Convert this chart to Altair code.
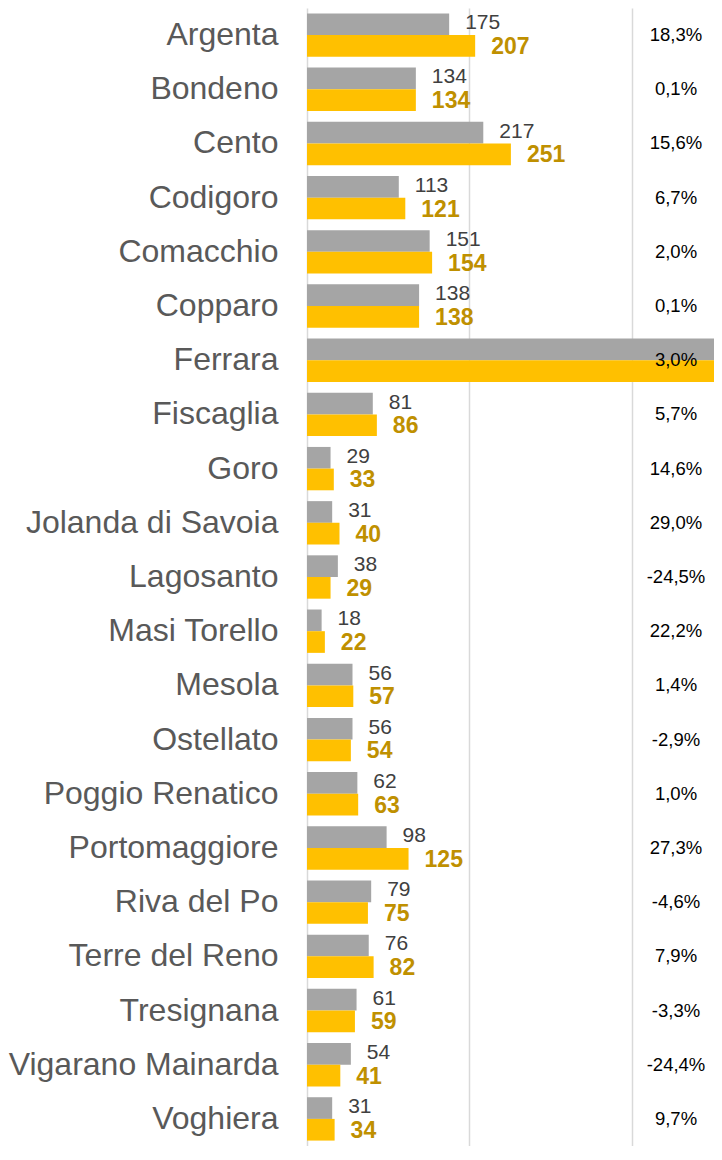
import altair as alt
import pandas as pd

towns = ["Argenta", "Bondeno", "Cento", "Codigoro", "Comacchio", "Copparo", "Ferrara",
         "Fiscaglia", "Goro", "Jolanda di Savoia", "Lagosanto", "Masi Torello", "Mesola",
         "Ostellato", "Poggio Renatico", "Portomaggiore", "Riva del Po", "Terre del Reno",
         "Tresignana", "Vigarano Mainarda", "Voghiera"]
prev_vals = [175, 134, 217, 113, 151, 138, 1000, 81, 29, 31, 38, 18, 56, 56, 62, 98, 79, 76, 61, 54, 31]
curr_vals = [207, 134, 251, 121, 154, 138, 1030, 86, 33, 40, 29, 22, 57, 54, 63, 125, 75, 82, 59, 41, 34]
pct_labels = ["18,3%", "0,1%", "15,6%", "6,7%", "2,0%", "0,1%", "3,0%", "5,7%", "14,6%", "29,0%",
              "-24,5%", "22,2%", "1,4%", "-2,9%", "1,0%", "27,3%", "-4,6%", "7,9%", "-3,3%",
              "-24,4%", "9,7%"]
series_order = ["prev", "curr"]
x_max = 501

rows = []
for t, p, c in zip(towns, prev_vals, curr_vals):
    rows.append({"town": t, "series": "prev", "value": p})
    rows.append({"town": t, "series": "curr", "value": c})
df = pd.DataFrame(rows)
pdf = pd.DataFrame({"town": towns, "pct": pct_labels})

y = alt.Y("town:N", sort=towns,
          scale=alt.Scale(paddingInner=0.2, paddingOuter=0.1),
          axis=alt.Axis(title=None, labelFontSize=32, labelColor="#595959",
                        labelFont="Liberation Sans", labelPadding=29, ticks=False,
                        domain=False, labelLimit=0))
yoff = alt.YOffset("series:N", sort=series_order,
                   scale=alt.Scale(domain=series_order, paddingInner=0, paddingOuter=0))
x = alt.X("value:Q", scale=alt.Scale(domain=[0, x_max], nice=False),
          axis=alt.Axis(values=[0, 200, 400], grid=True, gridColor="#D9D9D9", gridWidth=1.5,
                        labels=False, ticks=False, domain=False, title=None))
color = alt.Color("series:N", scale=alt.Scale(domain=series_order, range=["#A5A5A5", "#FFC000"]),
                  legend=None)

bars = alt.Chart(df).mark_bar(clip=True).encode(y=y, yOffset=yoff, x=x, color=color)

prev_text = alt.Chart(df).transform_filter(
    (alt.datum.series == "prev") & (alt.datum.value <= x_max)
).mark_text(
    align="left", baseline="middle", dx=16, dy=-1, fontSize=21,
    font="Liberation Sans", color="#404040"
).encode(y=y, yOffset=yoff, x=x, text="value:Q")

curr_text = alt.Chart(df).transform_filter(
    (alt.datum.series == "curr") & (alt.datum.value <= x_max)
).mark_text(
    align="left", baseline="middle", dx=16, dy=1, fontSize=23, fontWeight="bold",
    font="Liberation Sans", color="#BF9000"
).encode(y=y, yOffset=yoff, x=x, text="value:Q")

pct_text = alt.Chart(pdf).mark_text(
    align="center", baseline="middle", fontSize=18.5, font="Liberation Sans",
    color="#000000"
).encode(y=y, x=alt.value(369), text="pct:N")

chart = alt.layer(bars, prev_text, curr_text, pct_text).properties(
    width=407, height=1138,
    autosize=alt.AutoSizeParams(type="none"),
    padding={"left": 299, "top": 0, "right": 0, "bottom": 0},
).configure_view(stroke=None)

chart.save("out.html", embed_options={"renderer": "svg", "actions": False})
